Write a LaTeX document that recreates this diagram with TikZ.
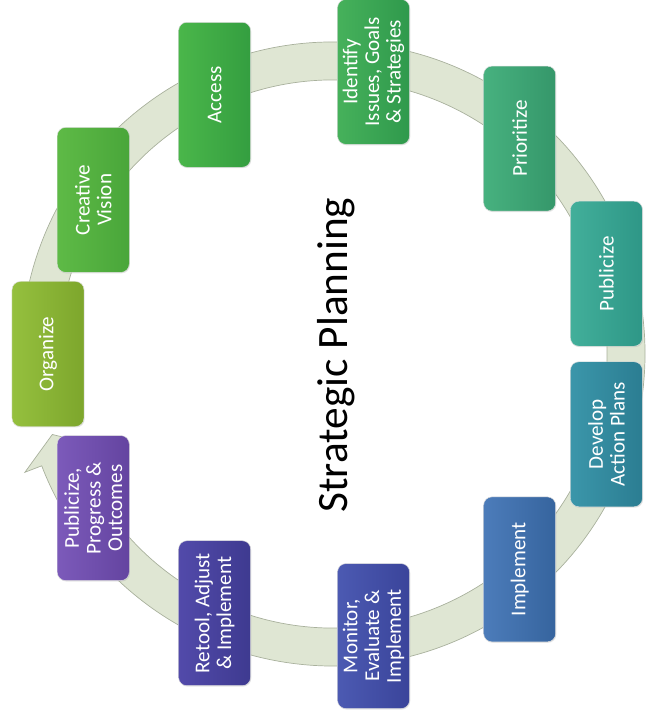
\documentclass[tikz,border=0pt]{standalone}
\usepackage{fontspec}
\setmainfont{Carlito}
\usetikzlibrary{shadows}

\definecolor{bandfill}{HTML}{DFE6D3}
\definecolor{bandline}{HTML}{A9B19D}
\definecolor{orgL}{HTML}{95C03E}
\definecolor{orgD}{HTML}{7DA62C}
\definecolor{visL}{HTML}{5EBA46}
\definecolor{visD}{HTML}{49A63A}
\definecolor{accL}{HTML}{4AB64A}
\definecolor{accD}{HTML}{349E40}
\definecolor{ideL}{HTML}{46B15B}
\definecolor{ideD}{HTML}{2F994C}
\definecolor{priL}{HTML}{47B17F}
\definecolor{priD}{HTML}{35976A}
\definecolor{pubL}{HTML}{42AF9A}
\definecolor{pubD}{HTML}{2E9787}
\definecolor{devL}{HTML}{3B96AA}
\definecolor{devD}{HTML}{2B7D92}
\definecolor{impL}{HTML}{4C7CBA}
\definecolor{impD}{HTML}{36649E}
\definecolor{monL}{HTML}{4C5AB2}
\definecolor{monD}{HTML}{3A449A}
\definecolor{retL}{HTML}{524AAA}
\definecolor{retD}{HTML}{3E3A90}
\definecolor{outL}{HTML}{7C5ABA}
\definecolor{outD}{HTML}{6444A0}

\tikzset{
  stage/.style={rotate=90, rounded corners=0.25cm, minimum width=4.35cm,
    minimum height=2.16cm, inner sep=2pt, align=center, text=white,
    font=\fontsize{18}{18.5}\selectfont, draw=white!75!gray, line width=0.4pt,
    drop shadow={opacity=0.2, shadow xshift=0.6pt, shadow yshift=-0.8pt}},
  band/.style={fill=bandfill, draw=bandline, line width=0.6pt},
}

\begin{document}
\begin{tikzpicture}[x=0.03cm, y=0.03cm]
    \useasboundingbox (-333,-368) rectangle (316,354);
    % cycle arrow behind the stages
    \draw [band] (172:312) arc (172:-159:312) -- (-159:330) -- (-164:292)
      -- (-159:254) -- (-159:274) arc (-159:172:274) -- cycle;
    % stages, clockwise from the left
    \node [stage, left color=orgL, right color=orgD] (organize) at (180:285) {Organize};
    \node [stage, left color=visL, right color=visD] (vision) at (147.27:285) {Creative\\Vision};
    \node [stage, left color=accL, right color=accD] (access) at (114.55:285) {Access};
    \node [stage, left color=ideL, right color=ideD] (identify) at (81.82:285) {Identify\\Issues, Goals\\\& Strategies};
    \node [stage, left color=priL, right color=priD] (prioritize) at (49.09:285) {Prioritize};
    \node [stage, left color=pubL, right color=pubD] (publicize) at (16.36:285) {Publicize};
    \node [stage, left color=devL, right color=devD] (develop) at (-16.36:285) {Develop\\Action Plans};
    \node [stage, left color=impL, right color=impD] (implement) at (-49.09:285) {Implement};
    \node [stage, left color=monL, right color=monD] (monitor) at (-81.82:285) {Monitor,\\Evaluate \&\\Implement};
    \node [stage, left color=retL, right color=retD] (retool) at (-114.55:285) {Retool, Adjust\\\& Implement};
    \node [stage, left color=outL, right color=outD] (outcomes) at (-147.27:285) {Publicize,\\Progress \&\\Outcomes};
    % title in the middle
    \node [rotate=90, font=\fontsize{37}{40}\selectfont] (title) at (3,-1) {Strategic Planning};
\end{tikzpicture}
\end{document}
